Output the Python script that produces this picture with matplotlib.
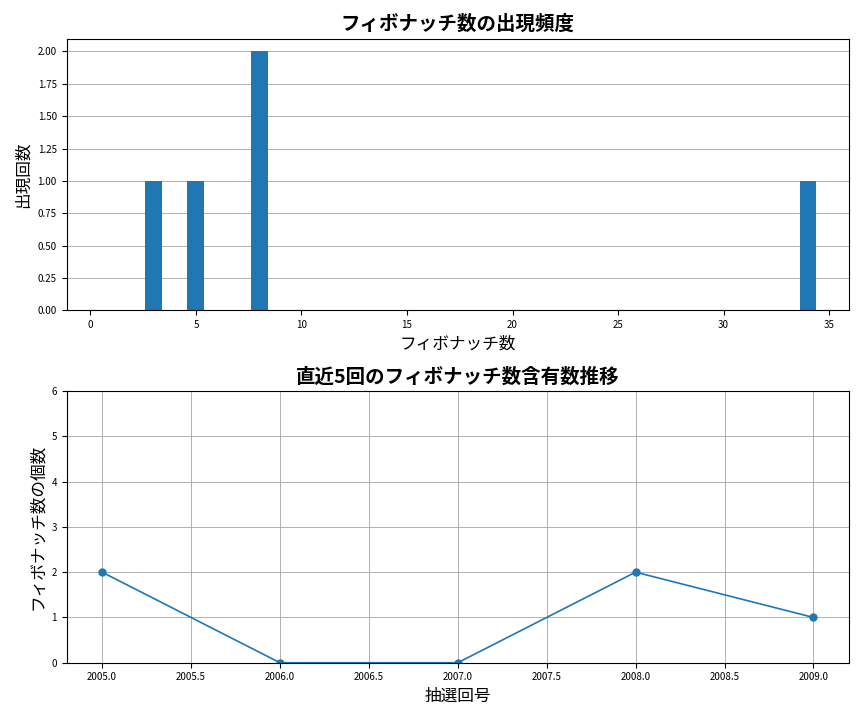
import matplotlib
matplotlib.use("Agg")
import matplotlib.pyplot as plt

plt.rcParams['font.family'] = ['Noto Sans CJK JP', 'DejaVu Sans']

fib_numbers = [3, 5, 8, 34]
fib_counts = [1, 1, 2, 1]

draws = [2005, 2006, 2007, 2008, 2009]
fib_per_draw = [2, 0, 0, 2, 1]

fig, (ax1, ax2) = plt.subplots(2, 1, figsize=(8.64, 7.2), dpi=100)

ax1.bar(fib_numbers, fib_counts, width=0.8, color='#1f77b4', zorder=2)
ax1.set_title("フィボナッチ数の出現頻度", fontsize=14, fontweight='bold')
ax1.set_xlabel("フィボナッチ数", fontsize=12)
ax1.set_ylabel("出現回数", fontsize=12)
ax1.set_xlim(-1.13, 35.94)
ax1.set_yticks([0, 0.25, 0.5, 0.75, 1.0, 1.25, 1.5, 1.75, 2.0])
ax1.set_yticklabels([f"{v:.2f}" for v in ax1.get_yticks()])
ax1.grid(axis='y', color='#b0b0b0', linewidth=0.7, zorder=0)
ax1.tick_params(labelsize=7)

ax2.plot(draws, fib_per_draw, marker='o', color='#1f77b4', linewidth=1.2, markersize=5)
ax2.set_title("直近5回のフィボナッチ数含有数推移", fontsize=14, fontweight='bold')
ax2.set_xlabel("抽選回号", fontsize=12)
ax2.set_ylabel("フィボナッチ数の個数", fontsize=12)
ax2.set_ylim(0, 6)
ax2.set_xticks([2005.0, 2005.5, 2006.0, 2006.5, 2007.0, 2007.5, 2008.0, 2008.5, 2009.0])
ax2.set_xticklabels([f"{v:.1f}" for v in ax2.get_xticks()])
ax2.grid(True, color='#b0b0b0', linewidth=0.7)
ax2.tick_params(labelsize=7)

plt.tight_layout()
plt.savefig("out.png")
